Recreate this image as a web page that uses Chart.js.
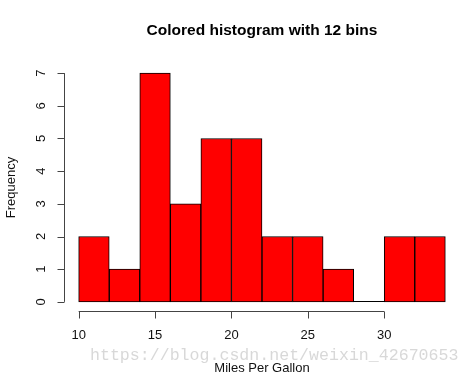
<!DOCTYPE html>
<html lang="en">
<head>
<meta charset="UTF-8">
<title>Colored histogram</title>
<script src="https://cdn.jsdelivr.net/npm/chart.js"></script>
</head>
<body style="margin:0; background:#fff; overflow:hidden;">
<div style="width:471px; height:376px;">
    <canvas id="hist" width="471" height="376"></canvas>
</div>
<script>
// mtcars mpg, 12 bins of width 2
const binCenters = [11, 13, 15, 17, 19, 21, 23, 25, 27, 29, 31, 33];
const counts = [2, 1, 7, 3, 5, 5, 2, 2, 1, 0, 2, 2];
const binWidth = 2;
const xTicks = [10, 15, 20, 25, 30];
const yTicks = [0, 1, 2, 3, 4, 5, 6, 7];
const titleText = 'Colored histogram with 12 bins';
const xLabel = 'Miles Per Gallon';
const yLabel = 'Frequency';
const watermark = 'https://blog.csdn.net/weixin_42670653';

// R-style axes: lines only span the tick range
const rAxes = {
    id: 'rAxes',
    afterDraw(chart) {
        const ctx = chart.ctx;
        const xs = chart.scales.x, ys = chart.scales.y;
        const area = chart.chartArea;
        ctx.save();
        ctx.strokeStyle = '#444';
        ctx.lineWidth = 1;
        ctx.fillStyle = '#111';

        // empty bins still get their bottom edge, like R's rect()
        ctx.beginPath();
        const base = Math.round(ys.getPixelForValue(0)) - 0.5;
        binCenters.forEach((c, i) => {
            if (counts[i] === 0) {
                ctx.moveTo(xs.getPixelForValue(c - binWidth / 2), base);
                ctx.lineTo(xs.getPixelForValue(c + binWidth / 2), base);
            }
        });
        ctx.strokeStyle = '#000';
        ctx.stroke();
        ctx.strokeStyle = '#444';

        // x axis
        const xy = Math.round(area.bottom) + 0.5;
        const x0 = xs.getPixelForValue(xTicks[0]), x1 = xs.getPixelForValue(xTicks[xTicks.length - 1]);
        ctx.beginPath();
        ctx.moveTo(x0, xy); ctx.lineTo(x1, xy);
        xTicks.forEach(t => {
            const px = Math.round(xs.getPixelForValue(t)) + 0.5;
            ctx.moveTo(px, xy); ctx.lineTo(px, xy + 7);
        });
        ctx.stroke();
        ctx.font = '13px "Liberation Sans", Arial, sans-serif';
        ctx.textAlign = 'center';
        ctx.textBaseline = 'middle';
        xTicks.forEach(t => ctx.fillText(String(t), xs.getPixelForValue(t), 335));

        // y axis
        const yx = Math.round(area.left) + 0.5;
        const y0 = ys.getPixelForValue(yTicks[0]), y1 = ys.getPixelForValue(yTicks[yTicks.length - 1]);
        ctx.beginPath();
        ctx.moveTo(yx, y0); ctx.lineTo(yx, y1);
        yTicks.forEach(t => {
            const py = Math.round(ys.getPixelForValue(t)) + 0.5;
            ctx.moveTo(yx, py); ctx.lineTo(yx - 7, py);
        });
        ctx.stroke();
        yTicks.forEach(t => {
            ctx.save();
            ctx.translate(41, ys.getPixelForValue(t));
            ctx.rotate(-Math.PI / 2);
            ctx.fillText(String(t), 0, 0);
            ctx.restore();
        });

        // titles
        const cx = (area.left + area.right) / 2;
        ctx.font = 'bold 15.5px "Liberation Sans", Arial, sans-serif';
        ctx.fillStyle = '#000';
        ctx.fillText(titleText, cx, 31);
        ctx.font = '13px "Liberation Sans", Arial, sans-serif';
        ctx.fillStyle = '#111';
        ctx.fillText(xLabel, cx, 368);
        ctx.save();
        ctx.translate(11, (area.top + area.bottom) / 2);
        ctx.rotate(-Math.PI / 2);
        ctx.fillText(yLabel, 0, 0);
        ctx.restore();

        // watermark
        ctx.font = '16.6px "Liberation Mono", monospace';
        ctx.fillStyle = 'rgba(190,190,190,0.6)';
        ctx.textAlign = 'left';
        ctx.fillText(watermark, 90, 356);
        ctx.restore();
    }
};

new Chart(document.getElementById('hist').getContext('2d'), {
    type: 'bar',
    data: {
        datasets: [{
            data: binCenters.map((c, i) => ({ x: c, y: counts[i] })),
            backgroundColor: '#ff0000',
            borderColor: '#000',
            borderWidth: 1,
            borderSkipped: false,
            barPercentage: 1,
            categoryPercentage: 1
        }]
    },
    options: {
        responsive: false,
        animation: false,
        layout: { padding: { left: 64, right: 11, top: 64, bottom: 65 } },
        scales: {
            x: { type: 'linear', min: 9.04, max: 34.96, offset: false, display: false },
            y: { min: -0.28, max: 7.28, display: false }
        },
        plugins: {
            legend: { display: false },
            tooltip: { enabled: false }
        }
    },
    plugins: [rAxes]
});
</script>
</body>
</html>
